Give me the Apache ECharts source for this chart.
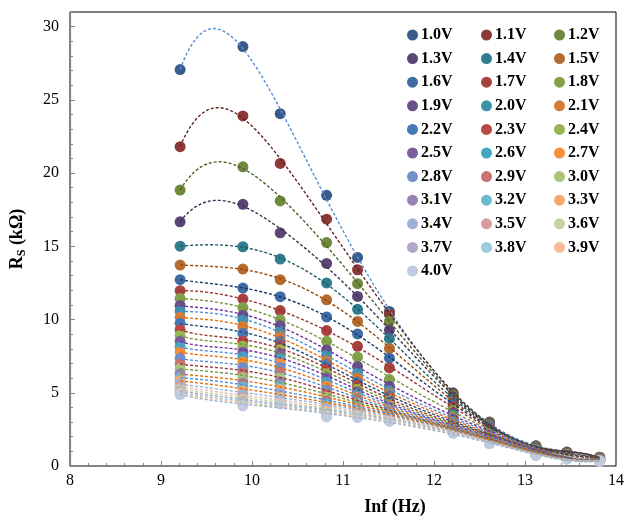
<!DOCTYPE html>
<html><head><meta charset="utf-8">
<script src="https://cdn.jsdelivr.net/npm/echarts@6/dist/echarts.min.js"></script>
<style>html,body{margin:0;padding:0;background:#fff}#c{width:627px;height:520px}</style>
</head><body><div id="c"></div>
<script>
// ln(frequency) positions
const lnF = [9.21, 9.90, 10.31, 10.82, 11.16, 11.51, 12.21, 12.61, 13.12, 13.46, 13.82];
const voltages = ['1.0V','1.1V','1.2V','1.3V','1.4V','1.5V','1.6V','1.7V','1.8V','1.9V','2.0V','2.1V','2.2V','2.3V','2.4V','2.5V','2.6V','2.7V','2.8V','2.9V','3.0V','3.1V','3.2V','3.3V','3.4V','3.5V','3.6V','3.7V','3.8V','3.9V','4.0V'];
const xTicks = [8, 9, 10, 11, 12, 13, 14];
const yTicks = [0, 5, 10, 15, 20, 25, 30];

// Rs (kOhm) per bias voltage
const rs_1_0 = [27.07, 28.64, 24.06, 18.48, 14.24, 10.55, 5.00, 3.00, 1.38, 0.95, 0.60];
const rs_1_1 = [21.80, 23.90, 20.66, 16.85, 13.40, 10.40, 4.92, 2.97, 1.36, 0.94, 0.59];
const rs_1_2 = [18.84, 20.43, 18.10, 15.26, 12.45, 9.88, 4.82, 2.93, 1.34, 0.93, 0.58];
const rs_1_3 = [16.67, 17.87, 15.92, 13.83, 11.58, 9.28, 4.70, 2.88, 1.31, 0.91, 0.57];
const rs_1_4 = [15.01, 14.97, 14.13, 12.50, 10.70, 8.69, 4.58, 2.82, 1.28, 0.89, 0.56];
const rs_1_5 = [13.72, 13.45, 12.72, 11.35, 9.87, 8.03, 4.44, 2.76, 1.25, 0.87, 0.55];
const rs_1_6 = [12.72, 12.15, 11.56, 10.18, 9.02, 7.36, 4.28, 2.68, 1.21, 0.84, 0.53];
const rs_1_7 = [11.97, 11.40, 10.61, 9.25, 8.17, 6.70, 4.08, 2.58, 1.17, 0.81, 0.51];
const rs_1_8 = [11.44, 10.82, 9.98, 8.51, 7.44, 5.91, 3.84, 2.46, 1.12, 0.78, 0.49];
const rs_1_9 = [10.96, 10.30, 9.59, 7.92, 6.80, 5.44, 3.62, 2.34, 1.07, 0.74, 0.47];
const rs_2_0 = [10.58, 9.98, 9.22, 7.55, 6.35, 5.17, 3.45, 2.24, 1.03, 0.71, 0.45];
const rs_2_1 = [10.16, 9.52, 8.88, 7.21, 6.03, 4.98, 3.32, 2.16, 1.00, 0.69, 0.44];
const rs_2_2 = [9.75, 9.05, 8.52, 6.94, 5.73, 4.80, 3.20, 2.09, 0.97, 0.67, 0.43];
const rs_2_3 = [9.31, 8.52, 8.23, 6.64, 5.49, 4.64, 3.10, 2.03, 0.95, 0.65, 0.42];
const rs_2_4 = [8.91, 8.17, 7.94, 6.35, 5.26, 4.50, 3.00, 1.98, 0.93, 0.63, 0.41];
const rs_2_5 = [8.51, 7.78, 7.67, 6.03, 5.06, 4.37, 2.92, 1.93, 0.91, 0.62, 0.40];
const rs_2_6 = [8.14, 7.44, 7.33, 5.73, 4.88, 4.25, 2.85, 1.89, 0.89, 0.61, 0.39];
const rs_2_7 = [7.80, 7.10, 7.03, 5.44, 4.71, 4.13, 2.78, 1.85, 0.87, 0.60, 0.39];
const rs_2_8 = [7.35, 6.71, 6.71, 5.17, 4.56, 4.02, 2.72, 1.81, 0.86, 0.59, 0.38];
const rs_2_9 = [6.98, 6.35, 6.39, 4.90, 4.42, 3.92, 2.66, 1.78, 0.84, 0.58, 0.38];
const rs_3_0 = [6.64, 6.03, 6.03, 4.67, 4.29, 3.83, 2.60, 1.75, 0.83, 0.57, 0.37];
const rs_3_1 = [6.30, 5.67, 5.73, 4.44, 4.17, 3.74, 2.55, 1.72, 0.82, 0.56, 0.37];
const rs_3_2 = [6.03, 5.40, 5.44, 4.22, 4.06, 3.65, 2.50, 1.69, 0.80, 0.55, 0.36];
const rs_3_3 = [5.82, 5.12, 5.22, 4.03, 3.95, 3.57, 2.46, 1.66, 0.79, 0.54, 0.36];
const rs_3_4 = [5.60, 4.88, 4.99, 3.90, 3.86, 3.49, 2.42, 1.64, 0.78, 0.53, 0.35];
const rs_3_5 = [5.42, 4.70, 4.80, 3.78, 3.76, 3.41, 2.38, 1.62, 0.77, 0.52, 0.35];
const rs_3_6 = [5.25, 4.55, 4.64, 3.67, 3.67, 3.34, 2.35, 1.60, 0.76, 0.51, 0.34];
const rs_3_7 = [5.12, 4.42, 4.52, 3.58, 3.59, 3.27, 2.32, 1.58, 0.75, 0.50, 0.34];
const rs_3_8 = [5.02, 4.30, 4.42, 3.50, 3.49, 3.20, 2.29, 1.56, 0.74, 0.49, 0.33];
const rs_3_9 = [4.95, 4.20, 4.33, 3.42, 3.40, 3.12, 2.26, 1.54, 0.73, 0.48, 0.33];
const rs_4_0 = [4.88, 4.10, 4.25, 3.35, 3.31, 3.04, 2.23, 1.52, 0.72, 0.47, 0.32];

const rsSeries = [rs_1_0, rs_1_1, rs_1_2, rs_1_3, rs_1_4, rs_1_5, rs_1_6, rs_1_7, rs_1_8, rs_1_9,
  rs_2_0, rs_2_1, rs_2_2, rs_2_3, rs_2_4, rs_2_5, rs_2_6, rs_2_7, rs_2_8, rs_2_9,
  rs_3_0, rs_3_1, rs_3_2, rs_3_3, rs_3_4, rs_3_5, rs_3_6, rs_3_7, rs_3_8, rs_3_9, rs_4_0];

// styles
const markerColors = [
  '#3A5C8C','#8C3836','#6F893D','#5A4575','#317D90','#B46B2F',
  '#3F6CA4','#A8423F','#82A14A','#695089','#3B93AA','#D47D36',
  '#4679B8','#BC4845','#95B651','#7A5D9D','#43A7C2','#F58F3C',
  '#7290C8','#C97270','#AAC57B','#9682B3','#6DB9CF','#F8A76B',
  '#9DB1D8','#D79D9C','#C1D4A4','#B3A6C8','#9ACADB','#FABB97',
  '#C0CAE1'];
const trendColors = [
  '#558ED5','#632523','#4F6228','#3F3151','#215968','#984807',
  '#17375E','#953735','#77933C','#7030A0','#558ED5','#E46C0A',
  '#1F497D','#953735','#77933C','#7030A0','#558ED5','#E46C0A',
  '#558ED5','#953735','#77933C','#E46C0A','#558ED5','#E46C0A',
  '#95B3D7','#E6B9B8','#C3D69B','#B3A2C7','#93CDDD','#FAC090',
  '#95B3D7'];

// polynomial least-squares trendline (order 6) computed from the data
function polyFit(xs, ys, order) {
  const c = 11.5, s = 2.3;
  const n = order + 1;
  const A = Array.from({length: n}, () => new Array(n + 1).fill(0));
  for (let k = 0; k < xs.length; k++) {
    const t = (xs[k] - c) / s;
    const p = [];
    for (let i = 0; i < n; i++) p.push(Math.pow(t, i));
    for (let i = 0; i < n; i++) {
      for (let j = 0; j < n; j++) A[i][j] += p[i] * p[j];
      A[i][n] += p[i] * ys[k];
    }
  }
  for (let i = 0; i < n; i++) {
    let m = i;
    for (let r = i + 1; r < n; r++) if (Math.abs(A[r][i]) > Math.abs(A[m][i])) m = r;
    [A[i], A[m]] = [A[m], A[i]];
    for (let r = 0; r < n; r++) {
      if (r === i) continue;
      const f = A[r][i] / A[i][i];
      for (let q = i; q <= n; q++) A[r][q] -= f * A[i][q];
    }
  }
  const coef = A.map((row, i) => row[n] / row[i]);
  return x => { const t = (x - c) / s; let v = 0; for (let i = n - 1; i >= 0; i--) v = v * t + coef[i]; return v; };
}

const FONT = '"Liberation Serif","Times New Roman",serif';
const series = [];
rsSeries.forEach((vals, i) => {
  series.push({
    name: voltages[i], type: 'scatter', symbol: 'circle', symbolSize: 11, z: 2,
    itemStyle: {color: markerColors[i], opacity: 1},
    data: lnF.map((x, k) => [x, vals[k]])
  });
});
rsSeries.forEach((vals, i) => {
  const f = polyFit(lnF, vals, 6);
  const x0 = lnF[0], x1 = lnF[lnF.length - 1];
  const pts = [];
  for (let k = 0; k <= 160; k++) { const x = x0 + (x1 - x0) * k / 160; pts.push([x, f(x)]); }
  series.push({
    name: voltages[i] + ' trend', type: 'line', showSymbol: false, symbol: 'none', z: 3, silent: true,
    lineStyle: {color: trendColors[i], width: 1.4, type: [3, 2]},
    data: pts
  });
});

function legendCol(offset, left) {
  const d = voltages.filter((v, i) => i % 3 === offset);
  return {
    orient: 'vertical', left: left, top: 27, padding: 0, itemGap: 7.6,
    itemWidth: 11, itemHeight: 11, icon: 'circle', selectedMode: false,
    textStyle: {fontFamily: FONT, fontSize: 16, fontWeight: 'bold', color: '#000', lineHeight: 16, padding: [0, 0, 0, -2]},
    data: d
  };
}

const axisGrey = '#868686';
const option = {
  animation: false,
  backgroundColor: '#fff',
  grid: {left: 68, right: 9, top: 12, bottom: 54, show: true, borderColor: '#000', borderWidth: 1},
  legend: [legendCol(0, 407), legendCol(1, 481), legendCol(2, 554)],
  xAxis: {
    type: 'value', min: xTicks[0], max: xTicks[xTicks.length - 1], interval: 1,
    axisLine: {show: true, onZero: false, lineStyle: {color: axisGrey, width: 1.2}},
    axisTick: {show: true, inside: true, length: 5, lineStyle: {color: axisGrey}},
    minorTick: {show: true, splitNumber: 5, length: 3, lineStyle: {color: axisGrey}},
    splitLine: {show: false},
    axisLabel: {fontFamily: FONT, fontSize: 16, color: '#000', margin: 7}
  },
  yAxis: {
    type: 'value', min: yTicks[0], max: 31, interval: 5,
    axisLine: {show: true, onZero: false, lineStyle: {color: axisGrey, width: 1.2}},
    axisTick: {show: true, inside: true, length: 5, lineStyle: {color: axisGrey}},
    minorTick: {show: true, splitNumber: 5, length: 3, lineStyle: {color: axisGrey}},
    splitLine: {show: false},
    axisLabel: {fontFamily: FONT, fontSize: 16, color: '#000', margin: 11, showMaxLabel: false},
    name: '{b|R}{s|S}{b| (kΩ)}', nameLocation: 'middle', nameGap: 42, nameRotate: 90,
    nameTextStyle: {
      rich: {
        b: {fontFamily: FONT, fontSize: 18, fontWeight: 'bold', color: '#000', lineHeight: 22},
        s: {fontFamily: FONT, fontSize: 12, fontWeight: 'bold', color: '#000', verticalAlign: 'bottom', lineHeight: 12}
      }
    }
  },
  graphic: [{
    type: 'text', x: 395, y: 507, silent: true,
    style: {text: 'Inf (Hz)', align: 'center', verticalAlign: 'middle', font: 'bold 18px ' + FONT, fill: '#000'}
  }],
  series: series
};
const chart = echarts.init(document.getElementById('c'), null, {renderer: 'canvas'});
chart.setOption(option);
</script></body></html>
